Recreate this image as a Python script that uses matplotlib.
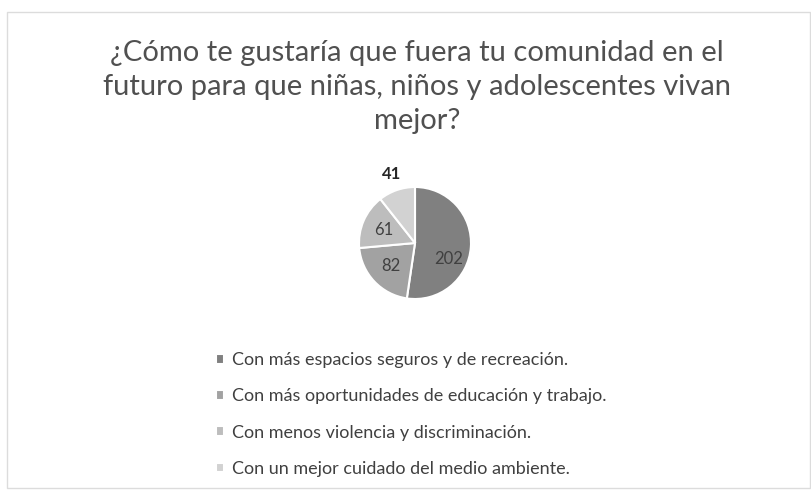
import matplotlib
matplotlib.use("Agg")
import matplotlib.pyplot as plt
from matplotlib.patches import Rectangle

plt.rcParams['font.family'] = ['Lato', 'DejaVu Sans']

# datos
categorias = [
    'Con más espacios seguros y de recreación.',
    'Con más oportunidades de educación y trabajo.',
    'Con menos violencia y discriminación.',
    'Con un mejor cuidado del medio ambiente.',
]
valores = [202, 82, 61, 41]
colores = ['#808080', '#a2a2a2', '#bdbdbd', '#d2d2d2']
titulo = '¿Cómo te gustaría que fuera tu comunidad en el\nfuturo para que niñas, niños y adolescentes vivan\nmejor?'

W, H = 812, 499
fig = plt.figure(figsize=(W / 100, H / 100), dpi=100)
fig.patch.set_facecolor('white')

# marco del gráfico
fig.add_artist(Rectangle((7 / W, 1 - 488 / H), (W - 9) / W, 476 / H,
                         transform=fig.transFigure, fill=False,
                         edgecolor='#dcdcdc', linewidth=1))

fig.text(417 / W, 1 - 40 / H, titulo, ha='center', va='top', fontsize=21,
         color='#505050', linespacing=1.38)

# pastel
cx, cy, r, half = 415, 243, 56, 100
ax = fig.add_axes([(cx - half) / W, (H - cy - half) / H, 2 * half / W, 2 * half / H])
wedges, textos, autos = ax.pie(valores, colors=colores, startangle=90, counterclock=False,
                               radius=1, autopct=lambda p: '{:.0f}'.format(p * sum(valores) / 100),
                               pctdistance=0.6,
                               wedgeprops=dict(edgecolor='white', linewidth=1.5),
                               textprops=dict(fontsize=12, color='#404040'))
# la etiqueta del segmento pequeño va fuera
x, y = autos[3].get_position()
autos[3].set_position((x / 0.6 * 1.3, y / 0.6 * 1.3))
autos[3].set_color('#262626')
autos[3].set_fontweight('bold')
# la etiqueta grande un poco más abajo, como en el original
x, y = autos[0].get_position()
autos[0].set_position((x, y - 0.25))
ax.set_xlim(-half / r, half / r)
ax.set_ylim(-half / r, half / r)
ax.set_aspect('equal')
ax.axis('off')

fig.legend(wedges, categorias, loc='upper left', bbox_to_anchor=(200 / W, 1 - 336 / H),
           frameon=False, fontsize=13, labelcolor='#404040',
           handlelength=0.45, handleheight=0.45, handletextpad=0.45, labelspacing=1.12)

fig.savefig('out.png', dpi=100)
